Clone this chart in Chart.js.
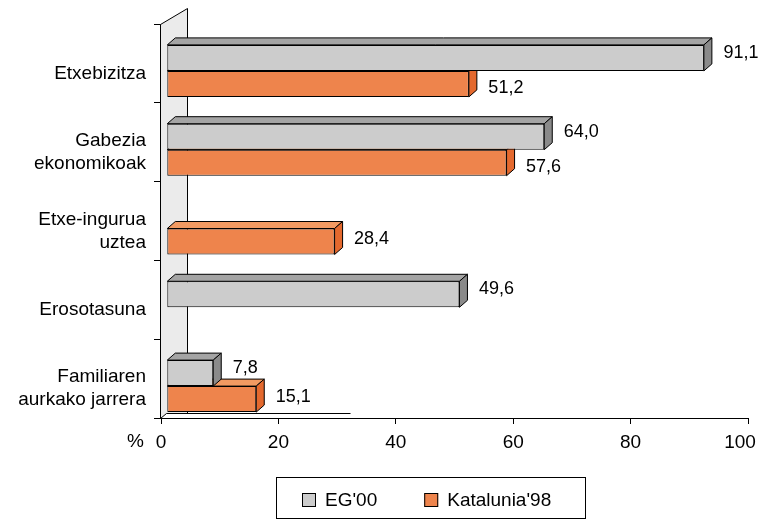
<!DOCTYPE html>
<html><head><meta charset="utf-8">
<script src="https://cdn.jsdelivr.net/npm/chart.js@4/dist/chart.umd.min.js"></script>
<style>html,body{margin:0;padding:0;background:#fff}</style>
</head><body>
<canvas id="c" width="759" height="519"></canvas>
<script>
// ---- data ----
const categories = ['Etxebizitza', ['Gabezia', 'ekonomikoak'], ['Etxe-ingurua', 'uztea'], 'Erosotasuna', ['Familiaren', 'aurkako jarrera']];
const seriesNames = ["EG'00", "Katalunia'98"];
const eg00 = [91.1, 64.0, null, 49.6, 7.8];
const katalunia98 = [51.2, 57.6, 28.4, null, 15.1];
const xTickValues = [0, 20, 40, 60, 80, 100];
const axisUnit = '%';

// ---- style ----
const FONT = '"Liberation Sans", Arial, sans-serif';
const frontColors = ['#cccccc', '#ee844c'];
const topColors = ['#a4a4a4', '#f29a62'];
const sideColors = ['#8a8a8a', '#e4692e'];
const DX = 8, DY = -7, SHIFT_Y = 7.5;
const fmt = v => v.toFixed(1).replace('.', ',');

const bar3d = {
  id: 'bar3d',
  beforeDatasetsDraw(chart) {
    const {ctx, chartArea: a} = chart;
    const fx = Math.round(a.left) - 0.5, bx = fx + 27;
    const ty = Math.round(a.top) + 0.5, by = Math.round(a.bottom) + 0.5;
    ctx.save();
    ctx.fillStyle = '#ebebeb';
    ctx.beginPath();
    ctx.moveTo(fx, ty); ctx.lineTo(bx, ty - 16); ctx.lineTo(bx, by - 5);
    ctx.lineTo(fx + 6, by - 5); ctx.lineTo(fx, by); ctx.closePath();
    ctx.fill();
    ctx.strokeStyle = '#000'; ctx.lineWidth = 1;
    ctx.beginPath();
    ctx.moveTo(fx, by); ctx.lineTo(fx, ty); ctx.lineTo(bx, ty - 16); ctx.lineTo(bx, by - 5);
    ctx.stroke();
    ctx.beginPath();
    ctx.moveTo(fx, by); ctx.lineTo(fx + 6, by - 5); ctx.lineTo(fx + 190, by - 5);
    ctx.stroke();
    ctx.restore();
    ctx.save();
    ctx.translate(0, SHIFT_Y);
  },
  afterDatasetDraw(chart, args) {
    const ctx = chart.ctx, di = args.index;
    const ds = chart.data.datasets[di];
    ctx.save();
    ctx.strokeStyle = '#000'; ctx.lineWidth = 1; ctx.lineJoin = 'round';
    args.meta.data.forEach((el, i) => {
      if (ds.data[i] == null) return;
      const p = el.getProps(['x', 'y', 'base', 'height'], true);
      const l = p.base, r = p.x, t = p.y - p.height / 2, b = p.y + p.height / 2;
      ctx.fillStyle = topColors[di];
      ctx.beginPath();
      ctx.moveTo(l, t); ctx.lineTo(r, t); ctx.lineTo(r + DX, t + DY); ctx.lineTo(l + DX, t + DY); ctx.closePath();
      ctx.fill(); ctx.stroke();
      ctx.fillStyle = sideColors[di];
      ctx.beginPath();
      ctx.moveTo(r, t); ctx.lineTo(r + DX, t + DY); ctx.lineTo(r + DX, b + DY); ctx.lineTo(r, b); ctx.closePath();
      ctx.fill(); ctx.stroke();
    });
    ctx.restore();
  },
  afterDatasetsDraw(chart) {
    const ctx = chart.ctx;
    ctx.save();
    ctx.font = '18px ' + FONT;
    ctx.fillStyle = '#000'; ctx.textAlign = 'left'; ctx.textBaseline = 'middle';
    chart.data.datasets.forEach((ds, di) => {
      const meta = chart.getDatasetMeta(di);
      meta.data.forEach((el, i) => {
        const v = ds.data[i];
        if (v == null) return;
        const p = el.getProps(['x', 'y'], true);
        const other = chart.data.datasets[0].data[i];
        const off = di === 0 ? -5 : (other != null && other >= v ? 4 : -2.5);
        ctx.fillText(fmt(v), p.x + 19.5, p.y + off);
      });
    });
    ctx.restore();
    ctx.restore(); // undo translate
  },
  afterDraw(chart) {
    const {ctx, chartArea: a} = chart;
    ctx.save();
    ctx.font = '19px ' + FONT;
    ctx.fillStyle = '#000'; ctx.textBaseline = 'middle'; ctx.textAlign = 'right';
    ctx.fillText(axisUnit, a.left - 17, a.bottom + 24);
    // legend
    const lx = 276.5, ly = 477.5, lw = 309, lh = 41;
    ctx.strokeStyle = '#000'; ctx.lineWidth = 1;
    ctx.strokeRect(lx, ly, lw, lh);
    ctx.textAlign = 'left';
    let x = 302;
    chart.data.datasets.forEach((ds, di) => {
      ctx.fillStyle = ds.backgroundColor;
      ctx.fillRect(x, 493, 14, 14);
      ctx.strokeRect(x + 0.5, 493.5, 13, 13);
      ctx.fillStyle = '#000';
      ctx.fillText(ds.label, x + 23, 501);
      x += 23 + ctx.measureText(ds.label).width + 47;
    });
    ctx.restore();
  }
};

new Chart(document.getElementById('c'), {
  type: 'bar',
  data: {
    labels: categories,
    datasets: [
      {label: seriesNames[0], data: eg00, backgroundColor: frontColors[0], borderColor: '#000', borderWidth: 1, borderSkipped: false, xAxisID: 'x2', clip: false},
      {label: seriesNames[1], data: katalunia98, backgroundColor: frontColors[1], borderColor: '#000', borderWidth: 1, borderSkipped: false, xAxisID: 'x2', clip: false}
    ]
  },
  options: {
    indexAxis: 'y',
    responsive: false,
    animation: false,
    events: [],
    layout: {padding: {top: 24, right: 11, bottom: 0, left: 0}},
    datasets: {bar: {categoryPercentage: 0.66, barPercentage: 1}},
    plugins: {legend: {display: false}, tooltip: {enabled: false}},
    scales: {
      y: {
        type: 'category',
        afterFit(s) { s.width = 161; s.paddingTop = 0; s.paddingBottom = 0; },
        grid: {display: true, drawOnChartArea: false, offset: true, tickLength: 7, color: '#000'},
        border: {display: true, color: '#000'},
        ticks: {color: '#000', font: {family: FONT, size: 19, lineHeight: 1.2}, padding: 8, labelOffset: 10}
      },
      x: {
        type: 'linear', position: 'bottom', min: 0, max: 100,
        afterFit(s) { s.height = 101; s.paddingLeft = 0; s.paddingRight = 0; },
        afterBuildTicks(s) { s.ticks = xTickValues.map(v => ({value: v})); },
        grid: {display: true, drawOnChartArea: false, tickLength: 6, color: '#000'},
        border: {display: true, color: '#000'},
        ticks: {color: '#000', font: {family: FONT, size: 19}, padding: 7,
                callback: v => v === 100 ? '100\u2007 ' : String(v)}
      },
      x2: {
        type: 'linear', display: false, min: -1.07, max: 98.59
      }
    }
  },
  plugins: [bar3d]
});
</script>
</body></html>
